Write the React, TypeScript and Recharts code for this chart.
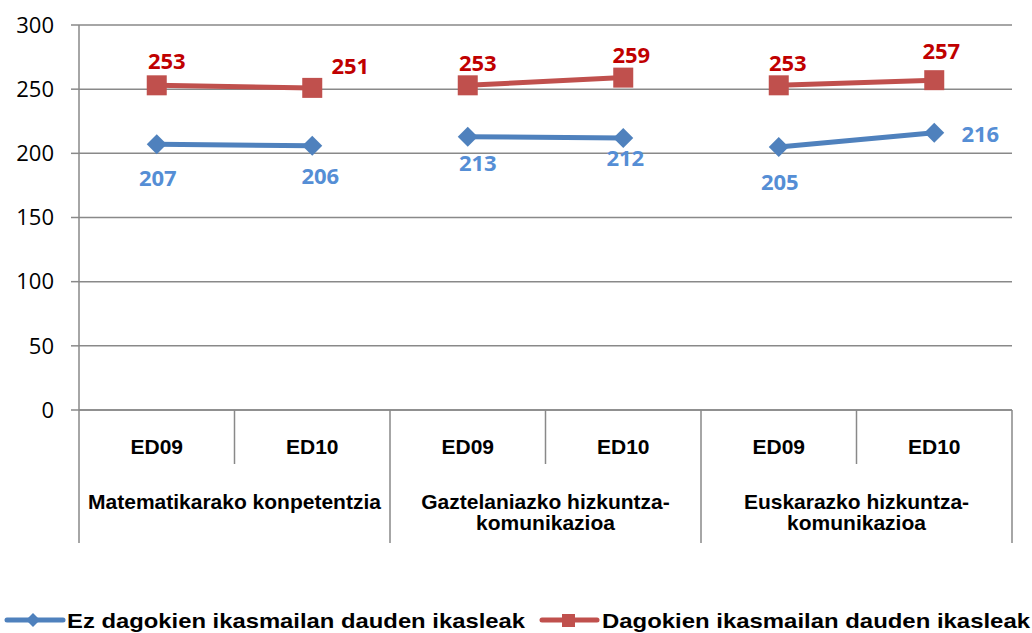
import React from 'react';
import { LineChart, Line, XAxis, YAxis, CartesianGrid, Legend } from 'recharts';

const categories = ['ED09', 'ED10', 'ED09', 'ED10', 'ED09', 'ED10'];
const groupLabels = [
  ['Matematikarako konpetentzia'],
  ['Gaztelaniazko hizkuntza-', 'komunikazioa'],
  ['Euskarazko hizkuntza-', 'komunikazioa'],
];
const notOnLevel = [207, 206, 213, 212, 205, 216];
const onLevel = [253, 251, 253, 259, 253, 257];
const yTicks = [0, 50, 100, 150, 200, 250, 300];
const seriesNames = ['Ez dagokien ikasmailan dauden ikasleak', 'Dagokien ikasmailan dauden ikasleak'];

const BLUE = '#4F81BD';
const RED = '#C0504D';
const BLUE_LABEL = '#558ED5';
const RED_LABEL = '#C00000';
const GRID = '#898989';

const W = 1032;
const H = 633;
const LEFT = 79;
const RIGHT = 20;
const BW = (W - LEFT - RIGHT) / categories.length;

// excel puts the labels wherever it likes, so nudge each one (dx, dy of label centre)
const blueLabelOffsets = [[1, 34], [8, 30], [10, 26], [2, 20], [1, 35], [46, 1]];
const redLabelOffsets = [[10, -24], [38, -22], [10, -22], [8, -23], [9, -22], [7, -29]];

// one key per group so the lines break between groups
const data = categories.map((cat, i) => {
  const g = Math.floor(i / 2);
  return { i, cat, [`blue${g}`]: notOnLevel[i], [`red${g}`]: onLevel[i] };
});

const Diamond = (props: any) => {
  const { cx, cy, index } = props;
  if (cx == null || cy == null) return <g key={`dm-${index}`} />;
  return (
    <path
      key={`dm-${index}`}
      d={`M${cx},${cy - 10}L${cx + 10},${cy}L${cx},${cy + 10}L${cx - 10},${cy}Z`}
      fill={BLUE}
    />
  );
};

const Square = (props: any) => {
  const { cx, cy, index } = props;
  if (cx == null || cy == null) return <g key={`sq-${index}`} />;
  return <rect key={`sq-${index}`} x={cx - 10} y={cy - 10} width={20} height={20} fill={RED} />;
};

const makeLabel = (color: string, offsets: number[][]) => (props: any) => {
  const { x, y, value, index } = props;
  if (value == null || x == null || y == null) return null;
  const [dx, dy] = offsets[index] || [0, 0];
  return (
    <text
      x={x + dx}
      y={y + dy + 8}
      textAnchor="middle"
      fill={color}
      fontFamily="'Open Sans', sans-serif"
      fontWeight={700}
      fontSize={22}
    >
      {value}
    </text>
  );
};

const CategoryTick = (props: any) => {
  const { x, y, payload } = props;
  const i = payload.index;
  const font = { fontFamily: "'Liberation Sans', Arial, sans-serif", fontWeight: 700, fontSize: 21, fill: '#000' };
  const first = i % 2 === 0;
  const g = Math.floor(i / 2);
  return (
    <g>
      <text x={x} y={y + 44} textAnchor="middle" {...font}>{categories[i]}</text>
      {first && <line x1={x + BW / 2} x2={x + BW / 2} y1={y} y2={y + 54} stroke={GRID} strokeWidth={1.5} />}
      {first && <line x1={x - BW / 2} x2={x - BW / 2} y1={y} y2={y + 133} stroke={GRID} strokeWidth={1.5} />}
      {i === categories.length - 1 && (
        <line x1={x + BW / 2} x2={x + BW / 2} y1={y} y2={y + 133} stroke={GRID} strokeWidth={1.5} />
      )}
      {first &&
        groupLabels[g].map((t, k) => (
          <text key={k} x={x + BW / 2} y={y + 99 + k * 21} textAnchor="middle" {...font}>
            {t}
          </text>
        ))}
    </g>
  );
};

const renderLegend = () => (
  <svg width={W} height={30} style={{ display: 'block' }}>
    <line x1={7} x2={63} y1={17} y2={17} stroke={BLUE} strokeWidth={5} strokeLinecap="round" />
    <path d="M33,10L40,17L33,24L26,17Z" fill={BLUE} />
    <text
      x={67}
      y={25}
      textLength={458}
      lengthAdjust="spacingAndGlyphs"
      fontFamily="'Liberation Sans', Arial, sans-serif"
      fontWeight={700}
      fontSize={21}
      fill="#000"
    >
      {seriesNames[0]}
    </text>
    <line x1={542} x2={597} y1={17} y2={17} stroke={RED} strokeWidth={5} strokeLinecap="round" />
    <rect x={562} y={11} width={13} height={13} fill={RED} />
    <text
      x={602}
      y={25}
      textLength={428}
      lengthAdjust="spacingAndGlyphs"
      fontFamily="'Liberation Sans', Arial, sans-serif"
      fontWeight={700}
      fontSize={21}
      fill="#000"
    >
      {seriesNames[1]}
    </text>
  </svg>
);

export default function App() {
  return (
    <div style={{ position: 'absolute', left: 0, top: 0, width: W, height: H, background: '#fff' }}>
      <LineChart width={W} height={H} data={data} margin={{ top: 25, right: RIGHT, left: 0, bottom: 0 }}>
        <CartesianGrid vertical={false} stroke={GRID} strokeWidth={1.5} />
        <XAxis
          dataKey="i"
          type="category"
          scale="band"
          interval={0}
          tickLine={false}
          tickSize={0}
          tickMargin={0}
          axisLine={{ stroke: GRID, strokeWidth: 1.5 }}
          tick={<CategoryTick />}
          height={193}
        />
        <YAxis
          domain={[0, 300]}
          ticks={yTicks}
          interval={0}
          width={LEFT}
          tickSize={8}
          tickMargin={17}
          tickLine={{ stroke: GRID, strokeWidth: 1.5 }}
          axisLine={{ stroke: GRID, strokeWidth: 1.5 }}
          tick={{ fontFamily: "'Open Sans', sans-serif", fontSize: 22, fill: '#000' }}
        />
        <Legend
          verticalAlign="bottom"
          align="left"
          content={renderLegend}
          wrapperStyle={{ left: 0, width: W, height: 30 }}
        />
        {[0, 1, 2].map((g) => (
          <Line
            key={`blue${g}`}
            dataKey={`blue${g}`}
            stroke={BLUE}
            strokeWidth={5}
            dot={<Diamond />}
            activeDot={false}
            label={makeLabel(BLUE_LABEL, blueLabelOffsets)}
            isAnimationActive={false}
            legendType="none"
          />
        ))}
        {[0, 1, 2].map((g) => (
          <Line
            key={`red${g}`}
            dataKey={`red${g}`}
            stroke={RED}
            strokeWidth={5}
            dot={<Square />}
            activeDot={false}
            label={makeLabel(RED_LABEL, redLabelOffsets)}
            isAnimationActive={false}
            legendType="none"
          />
        ))}
      </LineChart>
    </div>
  );
}
